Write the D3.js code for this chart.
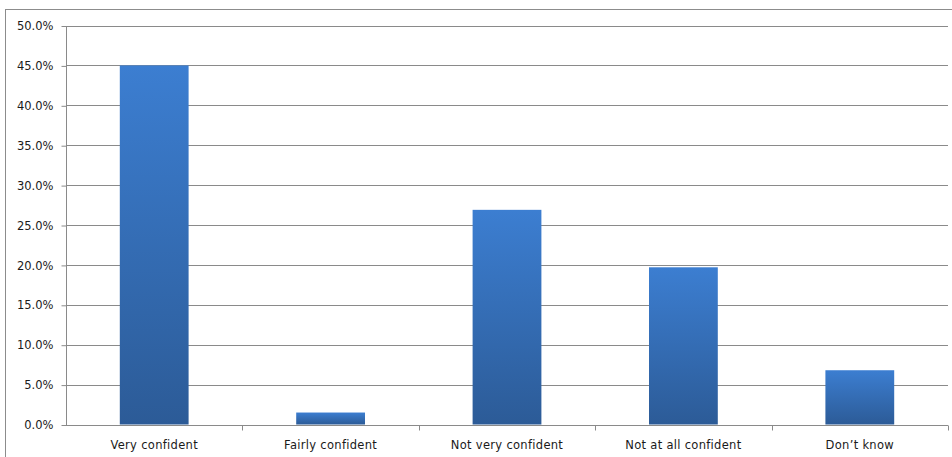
<!DOCTYPE html>
<html><head><meta charset="utf-8">
<script src="https://cdn.jsdelivr.net/npm/d3@7"></script>
<style>
html,body{margin:0;padding:0;background:#fff;}
svg{display:block;}
text{font-family:"DejaVu Sans",Verdana,sans-serif;font-size:11.5px;fill:#1a1a1a;}
</style></head>
<body>
<script>
const categories = ["Very confident","Fairly confident","Not very confident","Not at all confident","Don\u2019t know"];
const values = [45.0, 1.5, 26.9, 19.7, 6.8];
const yTicks = [0,5,10,15,20,25,30,35,40,45,50];

const W = 952, H = 457;
const m = {left:66, right:4, top:25.5, bottom:32.5};
const svg = d3.select("body").append("svg").attr("width",W).attr("height",H);

const defs = svg.append("defs");
const g = defs.append("linearGradient").attr("id","barGrad").attr("x1",0).attr("y1",0).attr("x2",0).attr("y2",1);
g.append("stop").attr("offset","0%").attr("stop-color","#3c7ed1");
g.append("stop").attr("offset","100%").attr("stop-color","#2c5b97");

// outer border
svg.append("rect").attr("x",5.5).attr("y",9.5).attr("width",W+10).attr("height",H+10)
  .attr("fill","none").attr("stroke","#8c8c8c").attr("stroke-width",1);

const x = d3.scaleBand().domain(categories).range([m.left, W-m.right]).paddingInner(0.61).paddingOuter(0.305);
const y = d3.scaleLinear().domain([0,50]).range([H-m.bottom, m.top]);

// gridlines
svg.append("g").selectAll("line").data(yTicks.filter(d=>d>0)).join("line")
  .attr("x1",m.left).attr("x2",W-m.right)
  .attr("y1",d=>Math.round(y(d))+0.5).attr("y2",d=>Math.round(y(d))+0.5)
  .attr("stroke","#8a8a8a").attr("stroke-width",1);

// bars
svg.append("g").selectAll("rect").data(values).join("rect")
  .attr("x",(d,i)=>x(categories[i]))
  .attr("width",x.bandwidth())
  .attr("y",d=>y(d))
  .attr("height",d=>y(0)-y(d))
  .attr("fill","url(#barGrad)");

// y axis
const yAxis = d3.axisLeft(y).tickValues(yTicks).tickSize(5).tickPadding(8).tickFormat(d=>d.toFixed(1)+"%");
const ya = svg.append("g").attr("transform",`translate(${m.left+0.5},0.5)`).call(yAxis);
ya.selectAll("line").attr("stroke","#8a8a8a");
ya.select(".domain").attr("stroke","#8a8a8a").attr("d",`M0,${y(50)}V${y(0)}`);
ya.selectAll("text").attr("fill","#1a1a1a").style("font-family","DejaVu Sans").style("font-size","11.5px");

// x axis
const xs = d3.scaleLinear().domain([0,categories.length]).range([m.left, W-m.right]);
const xa = svg.append("g").attr("transform",`translate(0,${Math.round(y(0))+0.5})`);
xa.append("line").attr("x1",m.left).attr("x2",W-m.right).attr("stroke","#8a8a8a");
xa.selectAll(".tk").data(d3.range(1,categories.length+1)).join("line").attr("class","tk")
  .attr("x1",d=>Math.round(xs(d))+0.5).attr("x2",d=>Math.round(xs(d))+0.5)
  .attr("y1",0).attr("y2",5).attr("stroke","#8a8a8a");
xa.selectAll("text").data(categories).join("text")
  .attr("x",d=>x(d)+x.bandwidth()/2).attr("y",23)
  .attr("text-anchor","middle").style("letter-spacing","0.3px").text(d=>d);
</script>
</body></html>
